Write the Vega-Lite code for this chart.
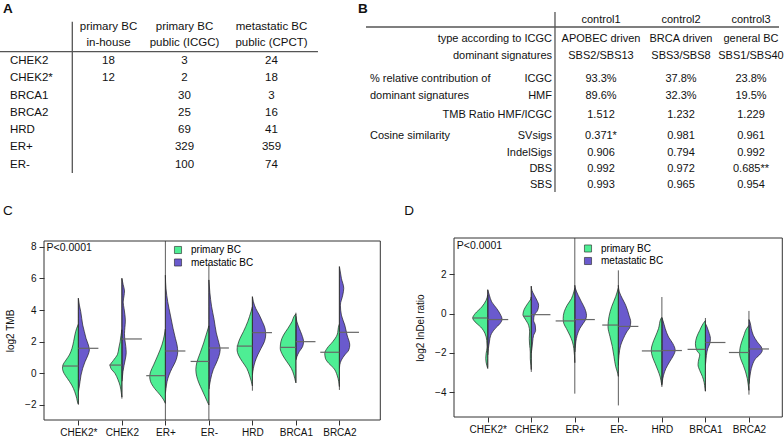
{
  "$schema": "https://vega.github.io/schema/vega-lite/v6.json",
  "width": 784,
  "height": 442,
  "autosize": {"type": "none"},
  "padding": 0,
  "background": "white",
  "config": {
    "view": {"stroke": null},
    "font": "Liberation Sans",
    "text": {"color": "#111"},
    "axis": {"labelColor": "#111", "titleColor": "#111", "tickColor": "#333", "labelFlush": false, "labelOverlap": false, "grid": false, "domain": false}
  },
  "datasets": {
    "ta": [
      {"r": 0, "c": 1, "t": "primary BC"}, {"r": 1, "c": 1, "t": "in-house"},
      {"r": 0, "c": 2, "t": "primary BC"}, {"r": 1, "c": 2, "t": "public (ICGC)"},
      {"r": 0, "c": 3, "t": "metastatic BC"}, {"r": 1, "c": 3, "t": "public (CPCT)"},
      {"r": 2, "c": 0, "t": "CHEK2"}, {"r": 2, "c": 1, "t": "18"}, {"r": 2, "c": 2, "t": "3"}, {"r": 2, "c": 3, "t": "24"},
      {"r": 3, "c": 0, "t": "CHEK2*"}, {"r": 3, "c": 1, "t": "12"}, {"r": 3, "c": 2, "t": "2"}, {"r": 3, "c": 3, "t": "18"},
      {"r": 4, "c": 0, "t": "BRCA1"}, {"r": 4, "c": 2, "t": "30"}, {"r": 4, "c": 3, "t": "3"},
      {"r": 5, "c": 0, "t": "BRCA2"}, {"r": 5, "c": 2, "t": "25"}, {"r": 5, "c": 3, "t": "16"},
      {"r": 6, "c": 0, "t": "HRD"}, {"r": 6, "c": 2, "t": "69"}, {"r": 6, "c": 3, "t": "41"},
      {"r": 7, "c": 0, "t": "ER+"}, {"r": 7, "c": 2, "t": "329"}, {"r": 7, "c": 3, "t": "359"},
      {"r": 8, "c": 0, "t": "ER-"}, {"r": 8, "c": 2, "t": "100"}, {"r": 8, "c": 3, "t": "74"}
    ],
    "tb": [
      {"r": 0, "c": 2, "t": "control1"}, {"r": 0, "c": 3, "t": "control2"}, {"r": 0, "c": 4, "t": "control3"},
      {"r": 1, "c": 1, "t": "type according to ICGC"}, {"r": 1, "c": 2, "t": "APOBEC driven"}, {"r": 1, "c": 3, "t": "BRCA driven"}, {"r": 1, "c": 4, "t": "general BC"},
      {"r": 2, "c": 1, "t": "dominant signatures"}, {"r": 2, "c": 2, "t": "SBS2/SBS13"}, {"r": 2, "c": 3, "t": "SBS3/SBS8"}, {"r": 2, "c": 4, "t": "SBS1/SBS40"},
      {"r": 3, "c": 0, "t": "% relative contribution of"}, {"r": 3, "c": 1, "t": "ICGC"}, {"r": 3, "c": 2, "t": "93.3%"}, {"r": 3, "c": 3, "t": "37.8%"}, {"r": 3, "c": 4, "t": "23.8%"},
      {"r": 4, "c": 0, "t": "dominant signatures"}, {"r": 4, "c": 1, "t": "HMF"}, {"r": 4, "c": 2, "t": "89.6%"}, {"r": 4, "c": 3, "t": "32.3%"}, {"r": 4, "c": 4, "t": "19.5%"},
      {"r": 5, "c": 1, "t": "TMB Ratio HMF/ICGC"}, {"r": 5, "c": 2, "t": "1.512"}, {"r": 5, "c": 3, "t": "1.232"}, {"r": 5, "c": 4, "t": "1.229"},
      {"r": 6, "c": 0, "t": "Cosine similarity"}, {"r": 6, "c": 1, "t": "SVsigs"}, {"r": 6, "c": 2, "t": "0.371*"}, {"r": 6, "c": 3, "t": "0.981"}, {"r": 6, "c": 4, "t": "0.961"},
      {"r": 7, "c": 1, "t": "IndelSigs"}, {"r": 7, "c": 2, "t": "0.906"}, {"r": 7, "c": 3, "t": "0.794"}, {"r": 7, "c": 4, "t": "0.992"},
      {"r": 8, "c": 1, "t": "DBS"}, {"r": 8, "c": 2, "t": "0.992"}, {"r": 8, "c": 3, "t": "0.972"}, {"r": 8, "c": 4, "t": "0.685**"},
      {"r": 9, "c": 1, "t": "SBS"}, {"r": 9, "c": 2, "t": "0.993"}, {"r": 9, "c": 3, "t": "0.965"}, {"r": 9, "c": 4, "t": "0.954"}
    ],
    "vc": [
      {"g":"CHEK2*","s":"m","y":4.74,"w":0},{"g":"CHEK2*","s":"m","y":4.31,"w":0.023},{"g":"CHEK2*","s":"m","y":3.9,"w":0.054},{"g":"CHEK2*","s":"m","y":3.47,"w":0.077},{"g":"CHEK2*","s":"m","y":3.05,"w":0.1},{"g":"CHEK2*","s":"m","y":2.63,"w":0.138},{"g":"CHEK2*","s":"m","y":2.21,"w":0.176},{"g":"CHEK2*","s":"m","y":1.79,"w":0.23},{"g":"CHEK2*","s":"m","y":1.47,"w":0.253},{"g":"CHEK2*","s":"m","y":1.16,"w":0.222},{"g":"CHEK2*","s":"m","y":0.73,"w":0.153},{"g":"CHEK2*","s":"m","y":0.32,"w":0.1},{"g":"CHEK2*","s":"m","y":-0.11,"w":0.061},{"g":"CHEK2*","s":"m","y":-0.53,"w":0.038},{"g":"CHEK2*","s":"m","y":-0.95,"w":0.015},{"g":"CHEK2*","s":"m","y":-1.16,"w":0},
      {"g":"CHEK2*","s":"p","y":3.1,"w":0},{"g":"CHEK2*","s":"p","y":2.84,"w":0.04},{"g":"CHEK2*","s":"p","y":2.42,"w":0.08},{"g":"CHEK2*","s":"p","y":2.0,"w":0.11},{"g":"CHEK2*","s":"p","y":1.58,"w":0.146},{"g":"CHEK2*","s":"p","y":1.16,"w":0.207},{"g":"CHEK2*","s":"p","y":0.84,"w":0.284},{"g":"CHEK2*","s":"p","y":0.52,"w":0.355},{"g":"CHEK2*","s":"p","y":0.32,"w":0.365},{"g":"CHEK2*","s":"p","y":0.0,"w":0.33},{"g":"CHEK2*","s":"p","y":-0.32,"w":0.253},{"g":"CHEK2*","s":"p","y":-0.74,"w":0.153},{"g":"CHEK2*","s":"p","y":-1.16,"w":0.084},{"g":"CHEK2*","s":"p","y":-1.58,"w":0.038},{"g":"CHEK2*","s":"p","y":-1.9,"w":0.01},{"g":"CHEK2*","s":"p","y":-1.96,"w":0},
      {"g":"CHEK2","s":"m","y":6.0,"w":0},{"g":"CHEK2","s":"m","y":5.6,"w":0.03},{"g":"CHEK2","s":"m","y":5.2,"w":0.06},{"g":"CHEK2","s":"m","y":4.9,"w":0.05},{"g":"CHEK2","s":"m","y":4.5,"w":0.03},{"g":"CHEK2","s":"m","y":4.1,"w":0.05},{"g":"CHEK2","s":"m","y":3.7,"w":0.07},{"g":"CHEK2","s":"m","y":3.3,"w":0.08},{"g":"CHEK2","s":"m","y":2.9,"w":0.07},{"g":"CHEK2","s":"m","y":2.5,"w":0.06},{"g":"CHEK2","s":"m","y":2.1,"w":0.07},{"g":"CHEK2","s":"m","y":1.7,"w":0.09},{"g":"CHEK2","s":"m","y":1.3,"w":0.1},{"g":"CHEK2","s":"m","y":0.9,"w":0.08},{"g":"CHEK2","s":"m","y":0.5,"w":0.05},{"g":"CHEK2","s":"m","y":0.1,"w":0.025},{"g":"CHEK2","s":"m","y":-0.3,"w":0.01},{"g":"CHEK2","s":"m","y":-0.5,"w":0},
      {"g":"CHEK2","s":"p","y":2.75,"w":0},{"g":"CHEK2","s":"p","y":2.4,"w":0.02},{"g":"CHEK2","s":"p","y":2.0,"w":0.04},{"g":"CHEK2","s":"p","y":1.6,"w":0.07},{"g":"CHEK2","s":"p","y":1.2,"w":0.1},{"g":"CHEK2","s":"p","y":0.8,"w":0.2},{"g":"CHEK2","s":"p","y":0.5,"w":0.27},{"g":"CHEK2","s":"p","y":0.3,"w":0.25},{"g":"CHEK2","s":"p","y":0.0,"w":0.16},{"g":"CHEK2","s":"p","y":-0.4,"w":0.09},{"g":"CHEK2","s":"p","y":-0.8,"w":0.04},{"g":"CHEK2","s":"p","y":-1.2,"w":0.015},{"g":"CHEK2","s":"p","y":-1.5,"w":0},
      {"g":"ER+","s":"m","y":6.2,"w":0},{"g":"ER+","s":"m","y":5.33,"w":0.015},{"g":"ER+","s":"m","y":4.52,"w":0.054},{"g":"ER+","s":"m","y":3.68,"w":0.115},{"g":"ER+","s":"m","y":2.84,"w":0.176},{"g":"ER+","s":"m","y":2.21,"w":0.23},{"g":"ER+","s":"m","y":1.79,"w":0.268},{"g":"ER+","s":"m","y":1.37,"w":0.284},{"g":"ER+","s":"m","y":1.05,"w":0.268},{"g":"ER+","s":"m","y":0.73,"w":0.23},{"g":"ER+","s":"m","y":0.32,"w":0.153},{"g":"ER+","s":"m","y":-0.11,"w":0.084},{"g":"ER+","s":"m","y":-0.53,"w":0.038},{"g":"ER+","s":"m","y":-0.95,"w":0.015},{"g":"ER+","s":"m","y":-1.26,"w":0},
      {"g":"ER+","s":"p","y":2.8,"w":0},{"g":"ER+","s":"p","y":2.42,"w":0.023},{"g":"ER+","s":"p","y":1.79,"w":0.08},{"g":"ER+","s":"p","y":1.16,"w":0.17},{"g":"ER+","s":"p","y":0.53,"w":0.27},{"g":"ER+","s":"p","y":0.1,"w":0.34},{"g":"ER+","s":"p","y":-0.21,"w":0.36},{"g":"ER+","s":"p","y":-0.53,"w":0.34},{"g":"ER+","s":"p","y":-0.95,"w":0.25},{"g":"ER+","s":"p","y":-1.37,"w":0.12},{"g":"ER+","s":"p","y":-1.68,"w":0.04},{"g":"ER+","s":"p","y":-1.9,"w":0},
      {"g":"ER-","s":"m","y":5.9,"w":0},{"g":"ER-","s":"m","y":5.09,"w":0.023},{"g":"ER-","s":"m","y":4.24,"w":0.061},{"g":"ER-","s":"m","y":3.4,"w":0.12},{"g":"ER-","s":"m","y":2.55,"w":0.17},{"g":"ER-","s":"m","y":1.92,"w":0.23},{"g":"ER-","s":"m","y":1.5,"w":0.26},{"g":"ER-","s":"m","y":1.08,"w":0.23},{"g":"ER-","s":"m","y":0.65,"w":0.17},{"g":"ER-","s":"m","y":0.23,"w":0.1},{"g":"ER-","s":"m","y":-0.4,"w":0.038},{"g":"ER-","s":"m","y":-0.82,"w":0.01},{"g":"ER-","s":"m","y":-1.0,"w":0},
      {"g":"ER-","s":"p","y":3.0,"w":0},{"g":"ER-","s":"p","y":2.55,"w":0.05},{"g":"ER-","s":"p","y":1.92,"w":0.12},{"g":"ER-","s":"p","y":1.29,"w":0.2},{"g":"ER-","s":"p","y":0.65,"w":0.28},{"g":"ER-","s":"p","y":0.23,"w":0.3},{"g":"ER-","s":"p","y":-0.19,"w":0.28},{"g":"ER-","s":"p","y":-0.61,"w":0.23},{"g":"ER-","s":"p","y":-1.04,"w":0.16},{"g":"ER-","s":"p","y":-1.46,"w":0.09},{"g":"ER-","s":"p","y":-1.78,"w":0.038},{"g":"ER-","s":"p","y":-2.0,"w":0},
      {"g":"HRD","s":"m","y":4.84,"w":0},{"g":"HRD","s":"m","y":4.52,"w":0.023},{"g":"HRD","s":"m","y":4.1,"w":0.077},{"g":"HRD","s":"m","y":3.68,"w":0.16},{"g":"HRD","s":"m","y":3.26,"w":0.23},{"g":"HRD","s":"m","y":2.84,"w":0.29},{"g":"HRD","s":"m","y":2.42,"w":0.306},{"g":"HRD","s":"m","y":2.0,"w":0.276},{"g":"HRD","s":"m","y":1.58,"w":0.2},{"g":"HRD","s":"m","y":1.16,"w":0.123},{"g":"HRD","s":"m","y":0.73,"w":0.061},{"g":"HRD","s":"m","y":0.32,"w":0.023},{"g":"HRD","s":"m","y":-0.11,"w":0},
      {"g":"HRD","s":"p","y":4.2,"w":0},{"g":"HRD","s":"p","y":3.9,"w":0.031},{"g":"HRD","s":"p","y":3.26,"w":0.107},{"g":"HRD","s":"p","y":2.63,"w":0.207},{"g":"HRD","s":"p","y":2.21,"w":0.284},{"g":"HRD","s":"p","y":1.79,"w":0.337},{"g":"HRD","s":"p","y":1.47,"w":0.352},{"g":"HRD","s":"p","y":1.16,"w":0.322},{"g":"HRD","s":"p","y":0.73,"w":0.23},{"g":"HRD","s":"p","y":0.32,"w":0.13},{"g":"HRD","s":"p","y":-0.11,"w":0.069},{"g":"HRD","s":"p","y":-0.53,"w":0.023},{"g":"HRD","s":"p","y":-0.8,"w":0},
      {"g":"BRCA1","s":"m","y":3.6,"w":0},{"g":"BRCA1","s":"m","y":3.26,"w":0.023},{"g":"BRCA1","s":"m","y":2.84,"w":0.077},{"g":"BRCA1","s":"m","y":2.42,"w":0.138},{"g":"BRCA1","s":"m","y":2.0,"w":0.176},{"g":"BRCA1","s":"m","y":1.68,"w":0.153},{"g":"BRCA1","s":"m","y":1.37,"w":0.077},{"g":"BRCA1","s":"m","y":1.05,"w":0.023},{"g":"BRCA1","s":"m","y":0.85,"w":0},
      {"g":"BRCA1","s":"p","y":3.75,"w":0},{"g":"BRCA1","s":"p","y":3.68,"w":0.023},{"g":"BRCA1","s":"p","y":3.26,"w":0.092},{"g":"BRCA1","s":"p","y":2.84,"w":0.184},{"g":"BRCA1","s":"p","y":2.42,"w":0.284},{"g":"BRCA1","s":"p","y":2.0,"w":0.345},{"g":"BRCA1","s":"p","y":1.58,"w":0.36},{"g":"BRCA1","s":"p","y":1.16,"w":0.307},{"g":"BRCA1","s":"p","y":0.73,"w":0.207},{"g":"BRCA1","s":"p","y":0.32,"w":0.107},{"g":"BRCA1","s":"p","y":-0.11,"w":0.046},{"g":"BRCA1","s":"p","y":-0.53,"w":0.008},{"g":"BRCA1","s":"p","y":-0.6,"w":0},
      {"g":"BRCA2","s":"m","y":6.74,"w":0},{"g":"BRCA2","s":"m","y":6.63,"w":0.008},{"g":"BRCA2","s":"m","y":6.0,"w":0.046},{"g":"BRCA2","s":"m","y":5.37,"w":0.1},{"g":"BRCA2","s":"m","y":4.94,"w":0.077},{"g":"BRCA2","s":"m","y":4.31,"w":0.023},{"g":"BRCA2","s":"m","y":3.68,"w":0.046},{"g":"BRCA2","s":"m","y":3.05,"w":0.123},{"g":"BRCA2","s":"m","y":2.42,"w":0.176},{"g":"BRCA2","s":"m","y":1.79,"w":0.238},{"g":"BRCA2","s":"m","y":1.47,"w":0.215},{"g":"BRCA2","s":"m","y":1.16,"w":0.123},{"g":"BRCA2","s":"m","y":0.84,"w":0.046},{"g":"BRCA2","s":"m","y":0.53,"w":0.008},{"g":"BRCA2","s":"m","y":0.3,"w":0},
      {"g":"BRCA2","s":"p","y":3.1,"w":0},{"g":"BRCA2","s":"p","y":3.05,"w":0.008},{"g":"BRCA2","s":"p","y":2.42,"w":0.054},{"g":"BRCA2","s":"p","y":2.0,"w":0.153},{"g":"BRCA2","s":"p","y":1.58,"w":0.284},{"g":"BRCA2","s":"p","y":1.26,"w":0.337},{"g":"BRCA2","s":"p","y":0.95,"w":0.322},{"g":"BRCA2","s":"p","y":0.63,"w":0.245},{"g":"BRCA2","s":"p","y":0.32,"w":0.13},{"g":"BRCA2","s":"p","y":-0.11,"w":0.054},{"g":"BRCA2","s":"p","y":-0.53,"w":0.015},{"g":"BRCA2","s":"p","y":-0.84,"w":0}
    ],
    "mc": [
      {"g":"CHEK2*","s":"p","y":0.46,"len":0.36},{"g":"CHEK2*","s":"m","y":1.58,"len":0.46},
      {"g":"CHEK2","s":"p","y":0.52,"len":0.29},{"g":"CHEK2","s":"m","y":2.17,"len":0.46},
      {"g":"ER+","s":"p","y":-0.15,"len":0.44},{"g":"ER+","s":"m","y":1.41,"len":0.46},
      {"g":"ER-","s":"p","y":0.75,"len":0.42},{"g":"ER-","s":"m","y":1.6,"len":0.46},
      {"g":"HRD","s":"p","y":1.72,"len":0.36},{"g":"HRD","s":"m","y":2.57,"len":0.45},
      {"g":"BRCA1","s":"p","y":1.64,"len":0.36},{"g":"BRCA1","s":"m","y":2.0,"len":0.45},
      {"g":"BRCA2","s":"p","y":1.33,"len":0.44},{"g":"BRCA2","s":"m","y":2.59,"len":0.45}
    ],
    "rc": [
      {"g":"CHEK2*","lo":-1.96,"hi":4.74},{"g":"CHEK2","lo":-1.6,"hi":6.0},{"g":"ER+","lo":-2.95,"hi":8.36},{"g":"ER-","lo":-2.95,"hi":6.88},{"g":"HRD","lo":-1.1,"hi":4.84},{"g":"BRCA1","lo":-0.59,"hi":3.83},{"g":"BRCA2","lo":-1.05,"hi":6.74}
    ],
    "vd": [
      {"g":"CHEK2*","s":"m","y":1.22,"w":0},{"g":"CHEK2*","s":"m","y":0.94,"w":0.038},{"g":"CHEK2*","s":"m","y":0.6,"w":0.092},{"g":"CHEK2*","s":"m","y":0.26,"w":0.207},{"g":"CHEK2*","s":"m","y":-0.08,"w":0.3},{"g":"CHEK2*","s":"m","y":-0.28,"w":0.33},{"g":"CHEK2*","s":"m","y":-0.5,"w":0.284},{"g":"CHEK2*","s":"m","y":-0.76,"w":0.169},{"g":"CHEK2*","s":"m","y":-1.1,"w":0.069},{"g":"CHEK2*","s":"m","y":-1.44,"w":0.038},{"g":"CHEK2*","s":"m","y":-1.78,"w":0.015},{"g":"CHEK2*","s":"m","y":-2.1,"w":0},
      {"g":"CHEK2*","s":"p","y":0.95,"w":0},{"g":"CHEK2*","s":"p","y":0.68,"w":0.038},{"g":"CHEK2*","s":"p","y":0.34,"w":0.138},{"g":"CHEK2*","s":"p","y":0.0,"w":0.291},{"g":"CHEK2*","s":"p","y":-0.22,"w":0.345},{"g":"CHEK2*","s":"p","y":-0.42,"w":0.291},{"g":"CHEK2*","s":"p","y":-0.68,"w":0.161},{"g":"CHEK2*","s":"p","y":-1.02,"w":0.061},{"g":"CHEK2*","s":"p","y":-1.36,"w":0.023},{"g":"CHEK2*","s":"p","y":-1.7,"w":0.015},{"g":"CHEK2*","s":"p","y":-2.04,"w":0.038},{"g":"CHEK2*","s":"p","y":-2.29,"w":0.046},{"g":"CHEK2*","s":"p","y":-2.63,"w":0.023},{"g":"CHEK2*","s":"p","y":-2.8,"w":0},
      {"g":"CHEK2","s":"m","y":1.4,"w":0},{"g":"CHEK2","s":"m","y":1.19,"w":0.015},{"g":"CHEK2","s":"m","y":0.94,"w":0.069},{"g":"CHEK2","s":"m","y":0.68,"w":0.13},{"g":"CHEK2","s":"m","y":0.43,"w":0.169},{"g":"CHEK2","s":"m","y":0.17,"w":0.146},{"g":"CHEK2","s":"m","y":-0.08,"w":0.069},{"g":"CHEK2","s":"m","y":-0.34,"w":0.054},{"g":"CHEK2","s":"m","y":-0.59,"w":0.092},{"g":"CHEK2","s":"m","y":-0.85,"w":0.1},{"g":"CHEK2","s":"m","y":-1.1,"w":0.054},{"g":"CHEK2","s":"m","y":-1.44,"w":0.031},{"g":"CHEK2","s":"m","y":-1.78,"w":0.015},{"g":"CHEK2","s":"m","y":-2.0,"w":0},
      {"g":"CHEK2","s":"p","y":0.85,"w":0},{"g":"CHEK2","s":"p","y":0.77,"w":0.008},{"g":"CHEK2","s":"p","y":0.51,"w":0.084},{"g":"CHEK2","s":"p","y":0.23,"w":0.161},{"g":"CHEK2","s":"p","y":-0.05,"w":0.192},{"g":"CHEK2","s":"p","y":-0.28,"w":0.138},{"g":"CHEK2","s":"p","y":-0.59,"w":0.061},{"g":"CHEK2","s":"p","y":-0.93,"w":0.038},{"g":"CHEK2","s":"p","y":-1.27,"w":0.046},{"g":"CHEK2","s":"p","y":-1.61,"w":0.038},{"g":"CHEK2","s":"p","y":-1.95,"w":0.023},{"g":"CHEK2","s":"p","y":-2.29,"w":0.023},{"g":"CHEK2","s":"p","y":-2.63,"w":0.008},{"g":"CHEK2","s":"p","y":-2.85,"w":0},
      {"g":"ER+","s":"m","y":1.45,"w":0},{"g":"ER+","s":"m","y":1.28,"w":0.015},{"g":"ER+","s":"m","y":0.94,"w":0.077},{"g":"ER+","s":"m","y":0.6,"w":0.153},{"g":"ER+","s":"m","y":0.26,"w":0.23},{"g":"ER+","s":"m","y":-0.08,"w":0.268},{"g":"ER+","s":"m","y":-0.28,"w":0.253},{"g":"ER+","s":"m","y":-0.5,"w":0.192},{"g":"ER+","s":"m","y":-0.76,"w":0.115},{"g":"ER+","s":"m","y":-1.1,"w":0.054},{"g":"ER+","s":"m","y":-1.44,"w":0.023},{"g":"ER+","s":"m","y":-1.78,"w":0.008},{"g":"ER+","s":"m","y":-1.95,"w":0},
      {"g":"ER+","s":"p","y":1.3,"w":0},{"g":"ER+","s":"p","y":1.11,"w":0.023},{"g":"ER+","s":"p","y":0.77,"w":0.077},{"g":"ER+","s":"p","y":0.43,"w":0.176},{"g":"ER+","s":"p","y":0.09,"w":0.245},{"g":"ER+","s":"p","y":-0.25,"w":0.268},{"g":"ER+","s":"p","y":-0.5,"w":0.253},{"g":"ER+","s":"p","y":-0.76,"w":0.192},{"g":"ER+","s":"p","y":-1.1,"w":0.115},{"g":"ER+","s":"p","y":-1.44,"w":0.054},{"g":"ER+","s":"p","y":-1.78,"w":0.023},{"g":"ER+","s":"p","y":-2.12,"w":0.008},{"g":"ER+","s":"p","y":-2.5,"w":0},
      {"g":"ER-","s":"m","y":1.45,"w":0},{"g":"ER-","s":"m","y":1.11,"w":0.023},{"g":"ER-","s":"m","y":0.77,"w":0.092},{"g":"ER-","s":"m","y":0.43,"w":0.169},{"g":"ER-","s":"m","y":-0.08,"w":0.245},{"g":"ER-","s":"m","y":-0.42,"w":0.284},{"g":"ER-","s":"m","y":-0.68,"w":0.268},{"g":"ER-","s":"m","y":-0.93,"w":0.192},{"g":"ER-","s":"m","y":-1.27,"w":0.115},{"g":"ER-","s":"m","y":-1.61,"w":0.054},{"g":"ER-","s":"m","y":-2.12,"w":0.015},{"g":"ER-","s":"m","y":-2.63,"w":0},
      {"g":"ER-","s":"p","y":1.3,"w":0},{"g":"ER-","s":"p","y":0.87,"w":0.061},{"g":"ER-","s":"p","y":0.36,"w":0.153},{"g":"ER-","s":"p","y":-0.15,"w":0.215},{"g":"ER-","s":"p","y":-0.66,"w":0.238},{"g":"ER-","s":"p","y":-1.17,"w":0.192},{"g":"ER-","s":"p","y":-1.68,"w":0.138},{"g":"ER-","s":"p","y":-2.19,"w":0.1},{"g":"ER-","s":"p","y":-2.7,"w":0.061},{"g":"ER-","s":"p","y":-3.04,"w":0.015},{"g":"ER-","s":"p","y":-3.2,"w":0},
      {"g":"HRD","s":"m","y":-0.2,"w":0},{"g":"HRD","s":"m","y":-0.34,"w":0.023},{"g":"HRD","s":"m","y":-0.76,"w":0.077},{"g":"HRD","s":"m","y":-1.19,"w":0.153},{"g":"HRD","s":"m","y":-1.53,"w":0.253},{"g":"HRD","s":"m","y":-1.87,"w":0.306},{"g":"HRD","s":"m","y":-2.12,"w":0.268},{"g":"HRD","s":"m","y":-2.46,"w":0.176},{"g":"HRD","s":"m","y":-2.8,"w":0.092},{"g":"HRD","s":"m","y":-3.14,"w":0.038},{"g":"HRD","s":"m","y":-3.49,"w":0.008},{"g":"HRD","s":"m","y":-3.6,"w":0},
      {"g":"HRD","s":"p","y":-0.2,"w":0},{"g":"HRD","s":"p","y":-0.25,"w":0.023},{"g":"HRD","s":"p","y":-0.76,"w":0.077},{"g":"HRD","s":"p","y":-1.19,"w":0.153},{"g":"HRD","s":"p","y":-1.53,"w":0.215},{"g":"HRD","s":"p","y":-1.87,"w":0.245},{"g":"HRD","s":"p","y":-2.21,"w":0.215},{"g":"HRD","s":"p","y":-2.55,"w":0.153},{"g":"HRD","s":"p","y":-2.89,"w":0.092},{"g":"HRD","s":"p","y":-3.23,"w":0.038},{"g":"HRD","s":"p","y":-3.57,"w":0.008},{"g":"HRD","s":"p","y":-3.65,"w":0},
      {"g":"BRCA1","s":"m","y":-0.5,"w":0},{"g":"BRCA1","s":"m","y":-0.68,"w":0.038},{"g":"BRCA1","s":"m","y":-0.93,"w":0.077},{"g":"BRCA1","s":"m","y":-1.27,"w":0.115},{"g":"BRCA1","s":"m","y":-1.53,"w":0.1},{"g":"BRCA1","s":"m","y":-1.78,"w":0.054},{"g":"BRCA1","s":"m","y":-2.12,"w":0.023},{"g":"BRCA1","s":"m","y":-2.46,"w":0.008},{"g":"BRCA1","s":"m","y":-2.6,"w":0},
      {"g":"BRCA1","s":"p","y":-0.35,"w":0},{"g":"BRCA1","s":"p","y":-0.51,"w":0.054},{"g":"BRCA1","s":"p","y":-0.85,"w":0.13},{"g":"BRCA1","s":"p","y":-1.19,"w":0.2},{"g":"BRCA1","s":"p","y":-1.53,"w":0.23},{"g":"BRCA1","s":"p","y":-1.87,"w":0.2},{"g":"BRCA1","s":"p","y":-2.1,"w":0.13},{"g":"BRCA1","s":"p","y":-2.3,"w":0.15},{"g":"BRCA1","s":"p","y":-2.6,"w":0.17},{"g":"BRCA1","s":"p","y":-2.9,"w":0.13},{"g":"BRCA1","s":"p","y":-3.2,"w":0.07},{"g":"BRCA1","s":"p","y":-3.5,"w":0.03},{"g":"BRCA1","s":"p","y":-3.83,"w":0.008},{"g":"BRCA1","s":"p","y":-3.95,"w":0},
      {"g":"BRCA2","s":"m","y":-0.3,"w":0},{"g":"BRCA2","s":"m","y":-0.42,"w":0.023},{"g":"BRCA2","s":"m","y":-0.76,"w":0.054},{"g":"BRCA2","s":"m","y":-1.1,"w":0.1},{"g":"BRCA2","s":"m","y":-1.44,"w":0.192},{"g":"BRCA2","s":"m","y":-1.7,"w":0.284},{"g":"BRCA2","s":"m","y":-1.87,"w":0.306},{"g":"BRCA2","s":"m","y":-2.04,"w":0.268},{"g":"BRCA2","s":"m","y":-2.29,"w":0.153},{"g":"BRCA2","s":"m","y":-2.63,"w":0.077},{"g":"BRCA2","s":"m","y":-2.97,"w":0.038},{"g":"BRCA2","s":"m","y":-3.31,"w":0.015},{"g":"BRCA2","s":"m","y":-3.57,"w":0},
      {"g":"BRCA2","s":"p","y":-0.6,"w":0},{"g":"BRCA2","s":"p","y":-0.76,"w":0.054},{"g":"BRCA2","s":"p","y":-1.1,"w":0.115},{"g":"BRCA2","s":"p","y":-1.44,"w":0.169},{"g":"BRCA2","s":"p","y":-1.78,"w":0.207},{"g":"BRCA2","s":"p","y":-2.04,"w":0.215},{"g":"BRCA2","s":"p","y":-2.29,"w":0.192},{"g":"BRCA2","s":"p","y":-2.63,"w":0.13},{"g":"BRCA2","s":"p","y":-2.97,"w":0.077},{"g":"BRCA2","s":"p","y":-3.31,"w":0.038},{"g":"BRCA2","s":"p","y":-3.66,"w":0.015},{"g":"BRCA2","s":"p","y":-3.91,"w":0}
    ],
    "md": [
      {"g":"CHEK2*","s":"p","y":-0.22,"len":0.345},{"g":"CHEK2*","s":"m","y":-0.3,"len":0.47},
      {"g":"CHEK2","s":"p","y":-0.13,"len":0.19},{"g":"CHEK2","s":"m","y":-0.05,"len":0.44},
      {"g":"ER+","s":"p","y":-0.37,"len":0.44},{"g":"ER+","s":"m","y":-0.3,"len":0.46},
      {"g":"ER-","s":"p","y":-0.58,"len":0.37},{"g":"ER-","s":"m","y":-0.65,"len":0.46},
      {"g":"HRD","s":"p","y":-1.9,"len":0.46},{"g":"HRD","s":"m","y":-1.88,"len":0.46},
      {"g":"BRCA1","s":"p","y":-1.82,"len":0.41},{"g":"BRCA1","s":"m","y":-1.47,"len":0.46},
      {"g":"BRCA2","s":"p","y":-1.98,"len":0.46},{"g":"BRCA2","s":"m","y":-1.8,"len":0.46}
    ],
    "rd": [
      {"g":"CHEK2*","lo":-2.75,"hi":1.22},{"g":"CHEK2","lo":-2.97,"hi":1.4},{"g":"ER+","lo":-4.08,"hi":3.86},{"g":"ER-","lo":-4.68,"hi":2.21},{"g":"HRD","lo":-3.74,"hi":0.85},{"g":"BRCA1","lo":-3.96,"hi":-0.22},{"g":"BRCA2","lo":-4.13,"hi":0.14}
    ]
  },
  "layer": [
    {
      "data": {"name": "ta"},
      "transform": [{"filter": "datum.c == 0"}],
      "mark": {"type": "text", "align": "left", "baseline": "middle", "fontSize": 11.5},
      "encoding": {
        "x": {"field": "c", "type": "quantitative", "scale": {"domain": [0, 1, 2, 3], "range": [10, 108.5, 184.5, 271.5], "nice": false, "zero": false}, "axis": null},
        "y": {"field": "r", "type": "quantitative", "scale": {"domain": [0, 1, 2, 8], "range": [27.3, 42.7, 61, 164.7], "nice": false, "zero": false}, "axis": null},
        "text": {"field": "t"}
      }
    },
    {
      "data": {"name": "ta"},
      "transform": [{"filter": "datum.c > 0"}],
      "mark": {"type": "text", "align": "center", "baseline": "middle", "fontSize": 11.5},
      "encoding": {
        "x": {"field": "c", "type": "quantitative", "scale": {"domain": [0, 1, 2, 3], "range": [10, 108.5, 184.5, 271.5], "nice": false, "zero": false}, "axis": null},
        "y": {"field": "r", "type": "quantitative", "scale": {"domain": [0, 1, 2, 8], "range": [27.3, 42.7, 61, 164.7], "nice": false, "zero": false}, "axis": null},
        "text": {"field": "t"}
      }
    },
    {
      "data": {"values": [{}]},
      "mark": {"type": "rule", "stroke": "#555", "strokeWidth": 1.3},
      "encoding": {
        "x": {"datum": -0.1015, "type": "quantitative", "scale": {"domain": [0, 1, 2, 3], "range": [10, 108.5, 184.5, 271.5], "nice": false, "zero": false}, "axis": null},
        "x2": {"datum": 3.534},
        "y": {"datum": 1.492, "type": "quantitative", "scale": {"domain": [0, 1, 2, 8], "range": [27.3, 42.7, 61, 164.7], "nice": false, "zero": false}, "axis": null}
      }
    },
    {
      "data": {"values": [{}]},
      "mark": {"type": "rule", "stroke": "#555", "strokeWidth": 1.3},
      "encoding": {
        "x": {"datum": 0.6325, "type": "quantitative", "scale": {"domain": [0, 1, 2, 3], "range": [10, 108.5, 184.5, 271.5], "nice": false, "zero": false}, "axis": null},
        "y": {"datum": -0.364, "type": "quantitative", "scale": {"domain": [0, 1, 2, 8], "range": [27.3, 42.7, 61, 164.7], "nice": false, "zero": false}, "axis": null},
        "y2": {"datum": 8.48}
      }
    },
    {
      "data": {"values": [{"t": "A"}]},
      "mark": {"type": "text", "align": "left", "baseline": "middle", "fontSize": 13.5, "fontWeight": "bold"},
      "encoding": {
        "x": {"datum": -0.071, "type": "quantitative", "scale": {"domain": [0, 1, 2, 3], "range": [10, 108.5, 184.5, 271.5], "nice": false, "zero": false}, "axis": null},
        "y": {"datum": -1.188, "type": "quantitative", "scale": {"domain": [0, 1, 2, 8], "range": [27.3, 42.7, 61, 164.7], "nice": false, "zero": false}, "axis": null},
        "text": {"field": "t"}
      }
    },
    {
      "data": {"name": "tb"},
      "transform": [{"filter": "datum.c == 0"}],
      "mark": {"type": "text", "align": "left", "baseline": "middle", "fontSize": 11},
      "encoding": {
        "x": {"field": "c", "type": "quantitative", "scale": {"domain": [0, 1, 2, 3, 4], "range": [370, 552, 601, 681, 751], "nice": false, "zero": false}, "axis": null},
        "y": {"field": "r", "type": "quantitative", "scale": {"domain": [0, 1, 2, 3, 4, 5, 6, 7, 8, 9], "range": [20, 39, 56, 79, 96, 115, 136, 152.5, 169, 185], "nice": false, "zero": false}, "axis": null},
        "text": {"field": "t"}
      }
    },
    {
      "data": {"name": "tb"},
      "transform": [{"filter": "datum.c == 1"}],
      "mark": {"type": "text", "align": "right", "baseline": "middle", "fontSize": 11},
      "encoding": {
        "x": {"field": "c", "type": "quantitative", "scale": {"domain": [0, 1, 2, 3, 4], "range": [370, 552, 601, 681, 751], "nice": false, "zero": false}, "axis": null},
        "y": {"field": "r", "type": "quantitative", "scale": {"domain": [0, 1, 2, 3, 4, 5, 6, 7, 8, 9], "range": [20, 39, 56, 79, 96, 115, 136, 152.5, 169, 185], "nice": false, "zero": false}, "axis": null},
        "text": {"field": "t"}
      }
    },
    {
      "data": {"name": "tb"},
      "transform": [{"filter": "datum.c > 1"}],
      "mark": {"type": "text", "align": "center", "baseline": "middle", "fontSize": 11},
      "encoding": {
        "x": {"field": "c", "type": "quantitative", "scale": {"domain": [0, 1, 2, 3, 4], "range": [370, 552, 601, 681, 751], "nice": false, "zero": false}, "axis": null},
        "y": {"field": "r", "type": "quantitative", "scale": {"domain": [0, 1, 2, 3, 4, 5, 6, 7, 8, 9], "range": [20, 39, 56, 79, 96, 115, 136, 152.5, 169, 185], "nice": false, "zero": false}, "axis": null},
        "text": {"field": "t"}
      }
    },
    {
      "data": {"values": [{}]},
      "mark": {"type": "rule", "stroke": "#555", "strokeWidth": 1.3},
      "encoding": {
        "x": {"datum": -0.022, "type": "quantitative", "scale": {"domain": [0, 1, 2, 3, 4], "range": [370, 552, 601, 681, 751], "nice": false, "zero": false}, "axis": null},
        "x2": {"datum": 4.4},
        "y": {"datum": 0.368, "type": "quantitative", "scale": {"domain": [0, 1, 2, 3, 4, 5, 6, 7, 8, 9], "range": [20, 39, 56, 79, 96, 115, 136, 152.5, 169, 185], "nice": false, "zero": false}, "axis": null}
      }
    },
    {
      "data": {"values": [{}]},
      "mark": {"type": "rule", "stroke": "#555", "strokeWidth": 1.3},
      "encoding": {
        "x": {"datum": 1.061, "type": "quantitative", "scale": {"domain": [0, 1, 2, 3, 4], "range": [370, 552, 601, 681, 751], "nice": false, "zero": false}, "axis": null},
        "y": {"datum": -0.421, "type": "quantitative", "scale": {"domain": [0, 1, 2, 3, 4, 5, 6, 7, 8, 9], "range": [20, 39, 56, 79, 96, 115, 136, 152.5, 169, 185], "nice": false, "zero": false}, "axis": null},
        "y2": {"datum": 9.44}
      }
    },
    {
      "data": {"values": [{"t": "B"}]},
      "mark": {"type": "text", "align": "left", "baseline": "middle", "fontSize": 13.5, "fontWeight": "bold"},
      "encoding": {
        "x": {"datum": -0.066, "type": "quantitative", "scale": {"domain": [0, 1, 2, 3, 4], "range": [370, 552, 601, 681, 751], "nice": false, "zero": false}, "axis": null},
        "y": {"datum": -0.579, "type": "quantitative", "scale": {"domain": [0, 1, 2, 3, 4, 5, 6, 7, 8, 9], "range": [20, 39, 56, 79, 96, 115, 136, 152.5, 169, 185], "nice": false, "zero": false}, "axis": null},
        "text": {"field": "t"}
      }
    },
    {
      "data": {"name": "vc"},
      "transform": [
        {"calculate": "indexof(['CHEK2*','CHEK2','ER+','ER-','HRD','BRCA1','BRCA2'], datum.g) + 1", "as": "i"},
        {"calculate": "datum.s == 'p' ? datum.i - datum.w : datum.i + datum.w", "as": "xe"}
      ],
      "mark": {"type": "area", "orient": "horizontal", "interpolate": "monotone", "stroke": "#222", "strokeWidth": 0.7, "fillOpacity": 1},
      "encoding": {
        "x": {"field": "xe", "type": "quantitative", "stack": null, "scale": {"domain": [0.21, 7.94], "range": [44, 380.3], "nice": false, "zero": false},
          "axis": {"orient": "bottom", "offset": -22, "values": [1, 2, 3, 4, 5, 6, 7], "labelExpr": "['CHEK2*','CHEK2','ER+','ER-','HRD','BRCA1','BRCA2'][datum.value - 1]", "title": null, "tickSize": 5, "labelFontSize": 10, "labelPadding": 2, "labelAngle": 0}},
        "x2": {"field": "i"},
        "y": {"field": "y", "type": "quantitative", "scale": {"domain": [-2.95, 8.36], "range": [420, 241], "nice": false, "zero": false},
          "axis": {"orient": "left", "offset": -44, "values": [-2, 0, 2, 4, 6, 8], "title": "log2 TMB", "tickSize": 5, "labelFontSize": 10, "labelPadding": 3, "titleFontSize": 10, "titleFontWeight": "normal", "titlePadding": 9}},
        "color": {"field": "s", "type": "nominal", "scale": {"domain": ["p", "m"], "range": ["#4EEE94", "#6A5ACD"]},
          "legend": {"orient": "none", "legendX": 173, "legendY": 245, "title": null, "symbolType": "square", "symbolSize": 50, "symbolStrokeColor": "#222", "symbolStrokeWidth": 0.6, "symbolOpacity": 1, "labelFontSize": 10, "labelOffset": 8, "rowPadding": 2.5, "padding": 0, "labelExpr": "datum.value == 'p' ? 'primary BC' : 'metastatic BC'"}},
        "detail": {"field": "g"}
      }
    },
    {
      "data": {"name": "rc"},
      "transform": [{"calculate": "indexof(['CHEK2*','CHEK2','ER+','ER-','HRD','BRCA1','BRCA2'], datum.g) + 1", "as": "i"}],
      "mark": {"type": "rule", "stroke": "#333", "strokeWidth": 0.8},
      "encoding": {
        "x": {"field": "i", "type": "quantitative", "scale": {"domain": [0.21, 7.94], "range": [44, 380.3], "nice": false, "zero": false}, "axis": null},
        "y": {"field": "lo", "type": "quantitative", "scale": {"domain": [-2.95, 8.36], "range": [420, 241], "nice": false, "zero": false}, "axis": null},
        "y2": {"field": "hi"}
      }
    },
    {
      "data": {"name": "mc"},
      "transform": [
        {"calculate": "indexof(['CHEK2*','CHEK2','ER+','ER-','HRD','BRCA1','BRCA2'], datum.g) + 1", "as": "i"},
        {"calculate": "datum.s == 'p' ? datum.i - datum.len : datum.i + datum.len", "as": "xm"}
      ],
      "mark": {"type": "rule", "stroke": "#666", "strokeWidth": 1.2},
      "encoding": {
        "x": {"field": "i", "type": "quantitative", "scale": {"domain": [0.21, 7.94], "range": [44, 380.3], "nice": false, "zero": false}, "axis": null},
        "x2": {"field": "xm"},
        "y": {"field": "y", "type": "quantitative", "scale": {"domain": [-2.95, 8.36], "range": [420, 241], "nice": false, "zero": false}, "axis": null}
      }
    },
    {
      "data": {"values": [{}]},
      "mark": {"type": "rect", "fill": "transparent", "stroke": "#333", "strokeWidth": 1},
      "encoding": {
        "x": {"datum": 0.21, "type": "quantitative", "scale": {"domain": [0.21, 7.94], "range": [44, 380.3], "nice": false, "zero": false}, "axis": null},
        "x2": {"datum": 7.94},
        "y": {"datum": -2.95, "type": "quantitative", "scale": {"domain": [-2.95, 8.36], "range": [420, 241], "nice": false, "zero": false}, "axis": null},
        "y2": {"datum": 8.36}
      }
    },
    {
      "data": {"values": [{"t": "P<0.0001", "x": 0.27, "y": 7.93}, {"t": "C", "x": -0.73, "y": 10.25}]},
      "mark": {"type": "text", "align": "left", "baseline": "middle"},
      "encoding": {
        "x": {"field": "x", "type": "quantitative", "scale": {"domain": [0.21, 7.94], "range": [44, 380.3], "nice": false, "zero": false}, "axis": null},
        "y": {"field": "y", "type": "quantitative", "scale": {"domain": [-2.95, 8.36], "range": [420, 241], "nice": false, "zero": false}, "axis": null},
        "text": {"field": "t"},
        "size": {"condition": {"test": "datum.t == 'C'", "value": 13.5}, "value": 10.5},
        "fontWeight": {"condition": {"test": "datum.t == 'C'", "value": "bold"}, "value": "normal"}
      }
    },
    {
      "data": {"name": "vd"},
      "transform": [
        {"calculate": "indexof(['CHEK2*','CHEK2','ER+','ER-','HRD','BRCA1','BRCA2'], datum.g) + 1", "as": "i"},
        {"calculate": "datum.s == 'p' ? datum.i - datum.w : datum.i + datum.w", "as": "xe"}
      ],
      "mark": {"type": "area", "orient": "horizontal", "interpolate": "monotone", "stroke": "#222", "strokeWidth": 0.7, "fillOpacity": 1},
      "encoding": {
        "x": {"field": "xe", "type": "quantitative", "stack": null, "scale": {"domain": [0.225, 7.766], "range": [454, 782.3], "nice": false, "zero": false},
          "axis": {"orient": "bottom", "offset": -25, "values": [1, 2, 3, 4, 5, 6, 7], "labelExpr": "['CHEK2*','CHEK2','ER+','ER-','HRD','BRCA1','BRCA2'][datum.value - 1]", "title": null, "tickSize": 5, "labelFontSize": 10, "labelPadding": 2, "labelAngle": 0}},
        "x2": {"field": "i"},
        "y": {"field": "y", "type": "quantitative", "scale": {"domain": [-5.27, 3.86], "range": [417, 238], "nice": false, "zero": false},
          "axis": {"orient": "left", "offset": -454, "values": [-4, -2, 0, 2], "title": "log2 InDel ratio", "tickSize": 5, "labelFontSize": 10, "labelPadding": 3, "titleFontSize": 10, "titleFontWeight": "normal", "titlePadding": 9}},
        "color": {"field": "s", "type": "nominal", "scale": {"domain": ["p", "m"], "range": ["#4EEE94", "#6A5ACD"]},
          "legend": {"orient": "none", "legendX": 583, "legendY": 243.5, "title": null, "symbolType": "square", "symbolSize": 50, "symbolStrokeColor": "#222", "symbolStrokeWidth": 0.6, "symbolOpacity": 1, "labelFontSize": 10, "labelOffset": 8, "rowPadding": 2.5, "padding": 0, "labelExpr": "datum.value == 'p' ? 'primary BC' : 'metastatic BC'"}},
        "detail": {"field": "g"}
      }
    },
    {
      "data": {"name": "rd"},
      "transform": [{"calculate": "indexof(['CHEK2*','CHEK2','ER+','ER-','HRD','BRCA1','BRCA2'], datum.g) + 1", "as": "i"}],
      "mark": {"type": "rule", "stroke": "#333", "strokeWidth": 0.8},
      "encoding": {
        "x": {"field": "i", "type": "quantitative", "scale": {"domain": [0.225, 7.766], "range": [454, 782.3], "nice": false, "zero": false}, "axis": null},
        "y": {"field": "lo", "type": "quantitative", "scale": {"domain": [-5.27, 3.86], "range": [417, 238], "nice": false, "zero": false}, "axis": null},
        "y2": {"field": "hi"}
      }
    },
    {
      "data": {"name": "md"},
      "transform": [
        {"calculate": "indexof(['CHEK2*','CHEK2','ER+','ER-','HRD','BRCA1','BRCA2'], datum.g) + 1", "as": "i"},
        {"calculate": "datum.s == 'p' ? datum.i - datum.len : datum.i + datum.len", "as": "xm"}
      ],
      "mark": {"type": "rule", "stroke": "#666", "strokeWidth": 1.2},
      "encoding": {
        "x": {"field": "i", "type": "quantitative", "scale": {"domain": [0.225, 7.766], "range": [454, 782.3], "nice": false, "zero": false}, "axis": null},
        "x2": {"field": "xm"},
        "y": {"field": "y", "type": "quantitative", "scale": {"domain": [-5.27, 3.86], "range": [417, 238], "nice": false, "zero": false}, "axis": null}
      }
    },
    {
      "data": {"values": [{}]},
      "mark": {"type": "rect", "fill": "transparent", "stroke": "#333", "strokeWidth": 1},
      "encoding": {
        "x": {"datum": 0.225, "type": "quantitative", "scale": {"domain": [0.225, 7.766], "range": [454, 782.3], "nice": false, "zero": false}, "axis": null},
        "x2": {"datum": 7.766},
        "y": {"datum": -5.27, "type": "quantitative", "scale": {"domain": [-5.27, 3.86], "range": [417, 238], "nice": false, "zero": false}, "axis": null},
        "y2": {"datum": 3.86}
      }
    },
    {
      "data": {"values": [{"t": "P<0.0001", "x": 0.29, "y": 3.45}, {"t": "D", "x": -0.92, "y": 5.24}]},
      "mark": {"type": "text", "align": "left", "baseline": "middle"},
      "encoding": {
        "x": {"field": "x", "type": "quantitative", "scale": {"domain": [0.225, 7.766], "range": [454, 782.3], "nice": false, "zero": false}, "axis": null},
        "y": {"field": "y", "type": "quantitative", "scale": {"domain": [-5.27, 3.86], "range": [417, 238], "nice": false, "zero": false}, "axis": null},
        "text": {"field": "t"},
        "size": {"condition": {"test": "datum.t == 'D'", "value": 13.5}, "value": 10.5},
        "fontWeight": {"condition": {"test": "datum.t == 'D'", "value": "bold"}, "value": "normal"}
      }
    }
  ],
  "resolve": {"scale": {"x": "independent", "y": "independent", "color": "independent"}, "axis": {"x": "independent", "y": "independent"}}
}
